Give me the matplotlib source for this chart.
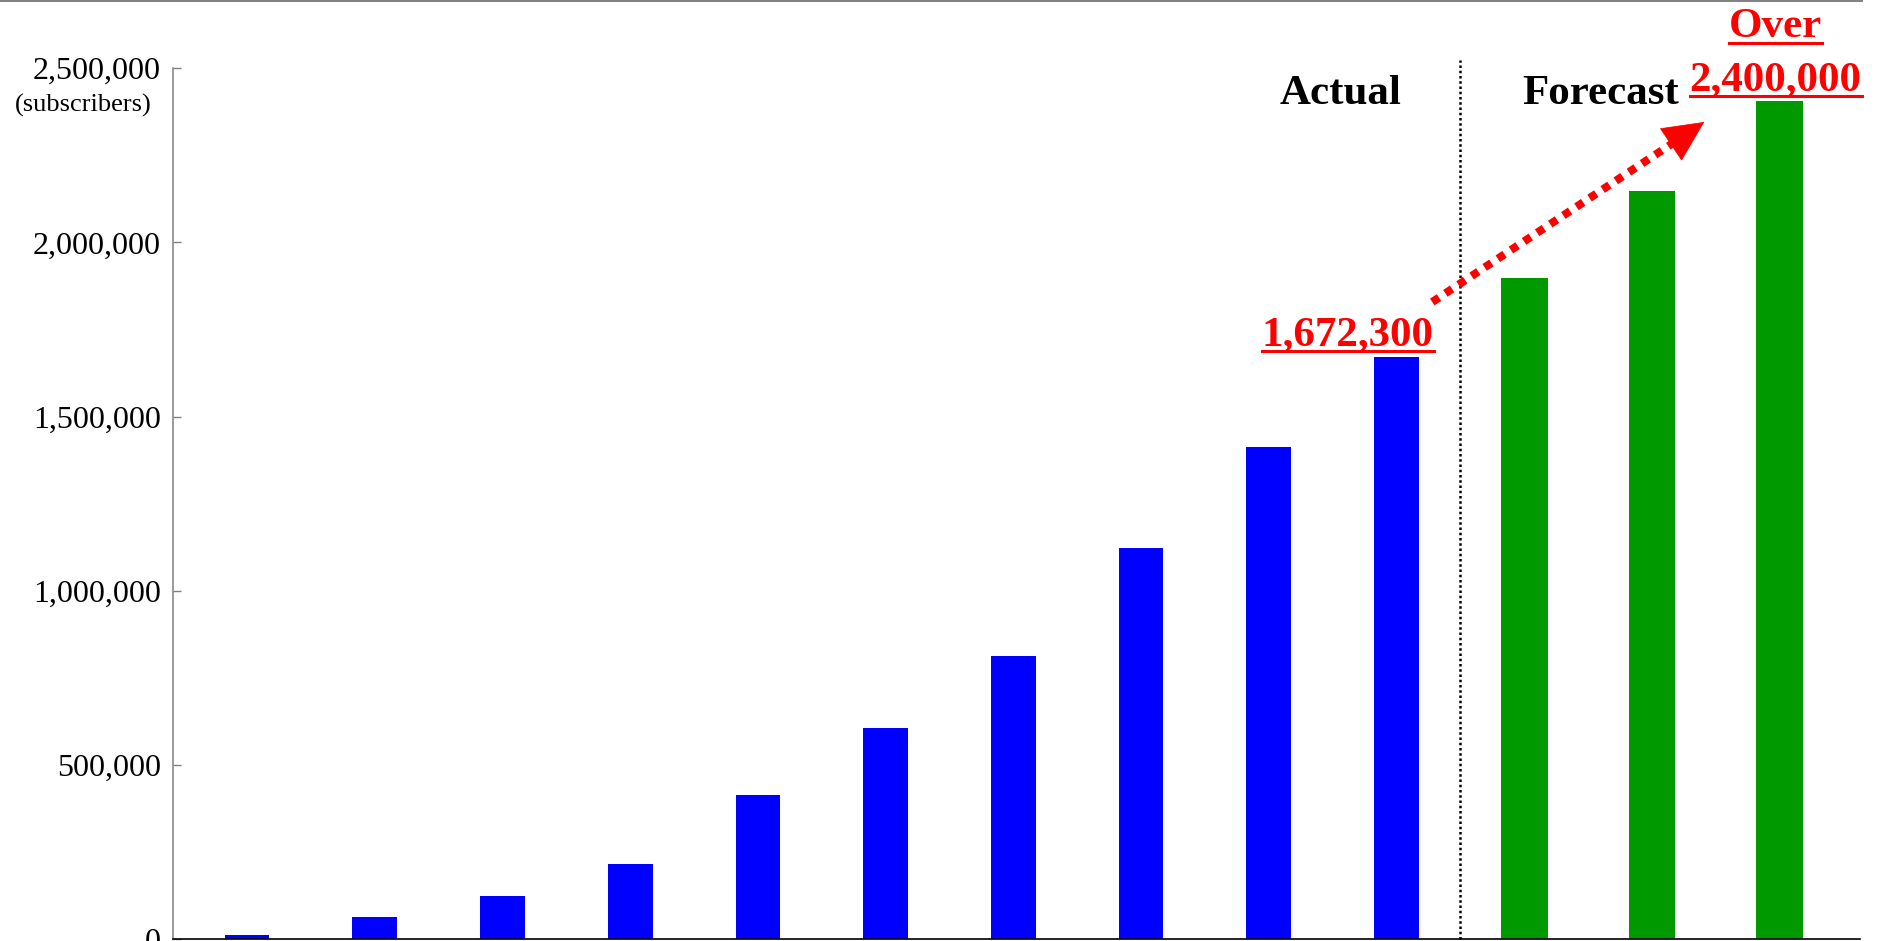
import matplotlib.pyplot as plt
from matplotlib.lines import Line2D
from matplotlib.ticker import FuncFormatter

plt.rcParams['font.family'] = ['Liberation Serif', 'DejaVu Serif']

# subscribers per period (blue = actual, green = forecast)
actual = [11500, 63000, 123500, 214000, 413000, 605000, 812000, 1124000, 1414000, 1672300]
forecast = [1897000, 2148000, 2407000]
yticks = [0, 500000, 1000000, 1500000, 2000000, 2500000]
target_label = '2,400,000'

n_act = len(actual)
x_act = list(range(n_act))
x_fc = list(range(n_act, n_act + len(forecast)))
split_x = n_act - 0.5

# annotation anchors (data coords)
arrow_start = (9.28, 1829000)
arrow_base = (11.155, 2283000)
arrow_tip = (11.41, 2346000)

W, H = 1879, 941
fig = plt.figure(figsize=(W / 100, H / 100), dpi=100)
ax = fig.add_axes([173 / W, 2 / H, (1860 - 173) / W, (939 - 68.3) / H])

ax.bar(x_act, actual, width=0.35, color='#0000ff', zorder=2)
ax.bar(x_fc, forecast, width=0.365, color='#009900', zorder=2)

ax.set_xlim(-0.5795, 12.629)
ax.set_ylim(0, 2500000)
ax.set_xticks([])
ax.set_yticks(yticks)
ax.yaxis.set_major_formatter(FuncFormatter(lambda v, p: f'{v:,.0f}'))
ax.tick_params(axis='y', direction='in', length=5.8, width=1.0, color='#808080',
               labelsize=23, pad=8.7)
for s in ['top', 'right']:
    ax.spines[s].set_visible(False)
ax.spines['left'].set_color('#808080')
ax.spines['left'].set_linewidth(1.1)
ax.spines['bottom'].set_color('black')
ax.spines['bottom'].set_linewidth(1.2)
ax.spines['bottom'].set_zorder(3)

# split line between actual and forecast
ax.plot([split_x, split_x], [0, 2524000], color='black', lw=1.8,
        dashes=(1, 1.1), zorder=3, clip_on=False)

# growth arrow
ax.plot([arrow_start[0], arrow_base[0]], [arrow_start[1], arrow_base[1]],
        color='red', lw=5.8, dashes=(1, 0.95), zorder=4)
ax.annotate('', xy=arrow_tip, xytext=arrow_base,
            arrowprops=dict(arrowstyle='-|>,head_length=28.3,head_width=13.6',
                            mutation_scale=1, color='red', lw=0.5,
                            shrinkA=0, shrinkB=0), zorder=4)

ax.text(8.559, 2397000, 'Actual', ha='center', va='baseline', fontsize=31, fontweight='bold')
ax.text(10.595, 2397000, 'Forecast', ha='center', va='baseline', fontsize=31, fontweight='bold')

red_texts = [
    ax.text(11.97, 2589000, 'Over', ha='center', va='baseline', fontsize=31,
            fontweight='bold', color='red', clip_on=False),
    ax.text(11.969, 2437500, target_label, ha='center', va='baseline',
            fontsize=31, fontweight='bold', color='red', clip_on=False),
    ax.text(8.618, 1705400, f'{actual[-1]:,}', ha='center', va='baseline',
            fontsize=31, fontweight='bold', color='red'),
]

fig.text(83 / W, 1 - 112 / H, '(subscribers)', ha='center', va='baseline', fontsize=19)

# top border line of the screenshot
fig.add_artist(Line2D([0, 1862 / W], [1 - 0.8 / H] * 2, transform=fig.transFigure,
                      color='#808080', lw=1.4))

# underline the red labels
fig.canvas.draw()
r = fig.canvas.get_renderer()
for t in red_texts:
    bb = t.get_window_extent(r)
    bx, by = ax.transData.transform(t.get_position())
    uy = by - 6
    fig.add_artist(Line2D([bb.x0 / W, bb.x1 / W], [uy / H, uy / H],
                          transform=fig.transFigure, color='red', lw=2.2))

fig.savefig('out.png', dpi=100)
